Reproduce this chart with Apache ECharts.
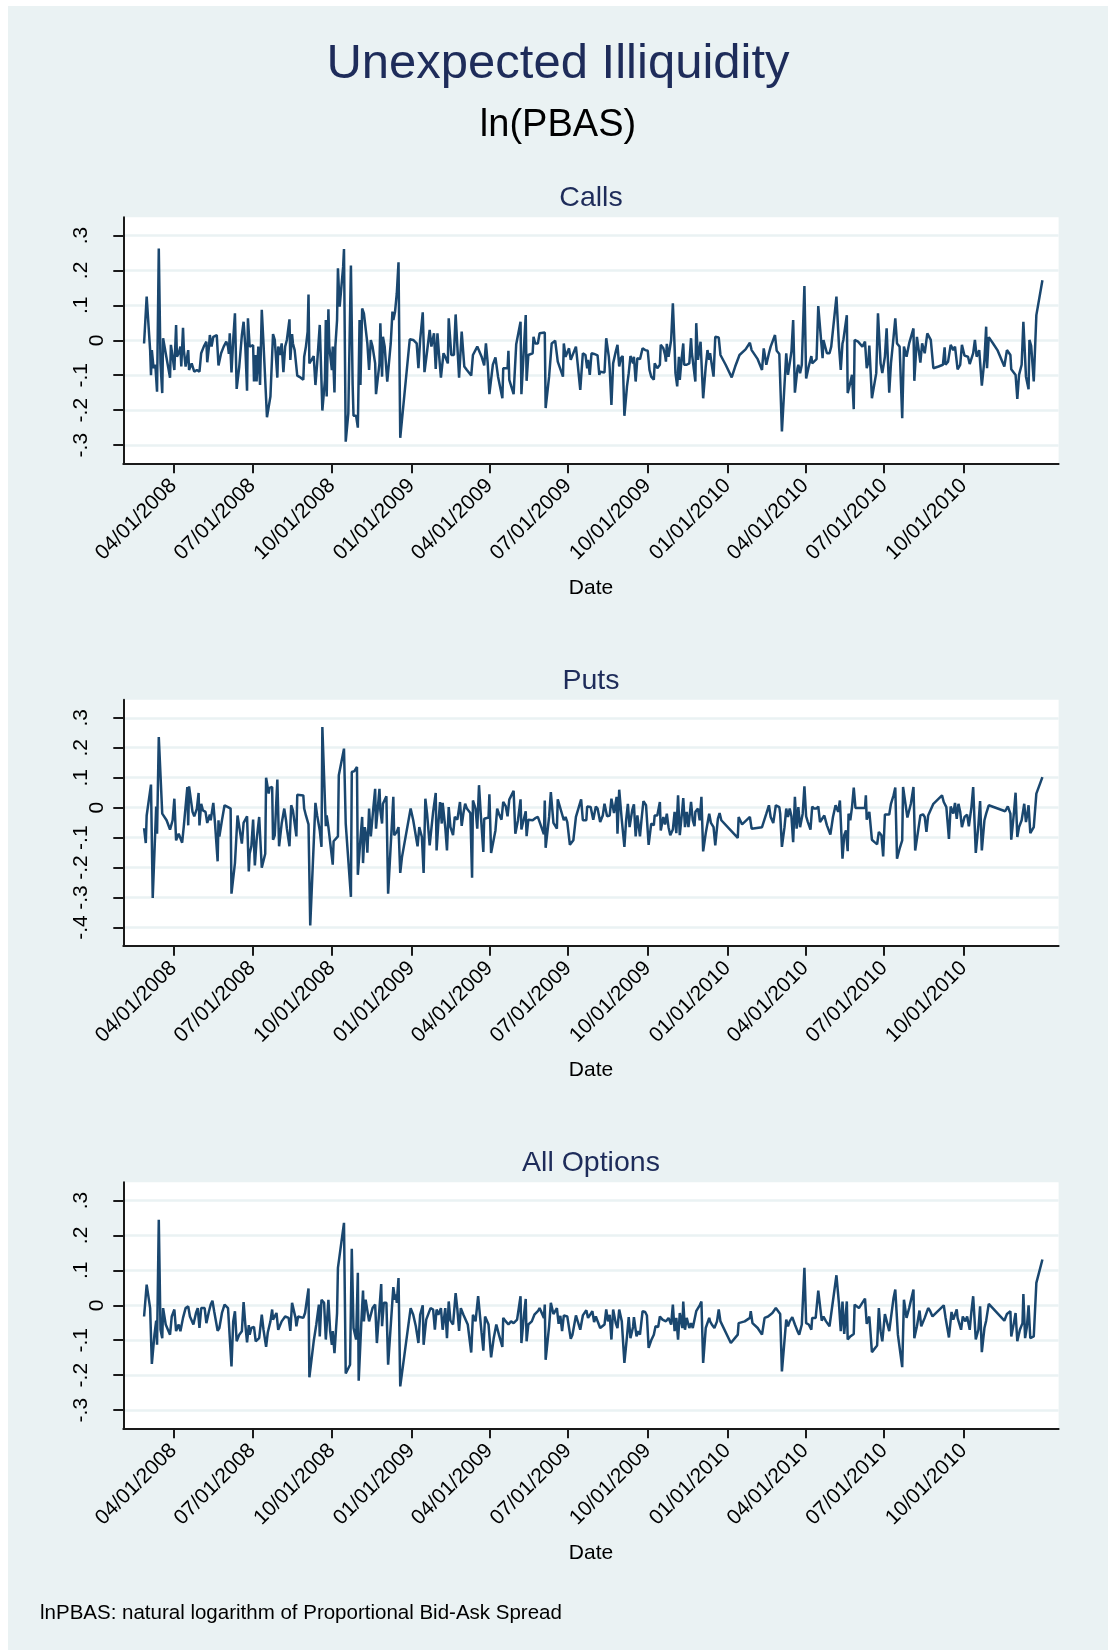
<!DOCTYPE html>
<html>
<head>
<meta charset="utf-8">
<title>Unexpected Illiquidity</title>
<script src="https://cdn.jsdelivr.net/npm/echarts@6/dist/echarts.min.js"></script>
<style>
  html, body { margin: 0; padding: 0; background: #ffffff; }
  #frame { position: absolute; left: 8px; top: 6px; width: 1100px; height: 1644px; background: #eaf2f3; }
  #chart { position: absolute; left: 0; top: 0; width: 1108px; height: 1650px; }
</style>
</head>
<body>
<div id="frame"></div>
<div id="chart"></div>
<script>
// x values are day numbers counted from 04/01/2008 (day 0)
const DAY = 86400000;
const BASE = Date.UTC(2008, 3, 1);

const tickLabels = ["04/01/2008", "07/01/2008", "10/01/2008", "01/01/2009", "04/01/2009",
  "07/01/2009", "10/01/2009", "01/01/2010", "04/01/2010", "07/01/2010", "10/01/2010"];
const callsTicks = [-0.3, -0.2, -0.1, 0, 0.1, 0.2, 0.3];
const putsTicks = [-0.4, -0.3, -0.2, -0.1, 0, 0.1, 0.2, 0.3];
const allTicks = [-0.3, -0.2, -0.1, 0, 0.1, 0.2, 0.3];
const panelTitles = ["Calls", "Puts", "All Options"];

// [day, unexpected ln(PBAS)]
const calls = [
  [-34,-0.009],[-31,0.125],[-27,-0.028],[-26,-0.10],[-25,-0.028],[-23,-0.08],[-21,-0.07],[-19,-0.147],[-17,0.263],[-15,-0.066],
  [-13,-0.151],[-12,0.006],[-9,-0.037],[-4,-0.107],[-3,-0.013],[-1,-0.047],[1,-0.085],[3,0.044],[4,-0.047],[6,-0.037],
  [8,-0.018],[9,-0.075],[11,0.036],[12,-0.028],[14,-0.075],[17,-0.028],[18,-0.085],[21,-0.066],[22,-0.061],[24,-0.09],
  [27,-0.085],[30,-0.09],[32,-0.037],[35,-0.018],[38,-0.004],[39,-0.063],[41,-0.018],[42,0.015],[44,-0.018],[46,0.01],
  [47,0.013],[50,0.015],[52,-0.072],[55,-0.037],[58,-0.018],[61,-0.004],[63,-0.018],[64,-0.039],[65,0.02],[67,-0.092],
  [69,0.001],[70,0.006],[71,0.077],[73,-0.139],[76,-0.075],[79,0.015],[81,0.053],[82,0.049],[83,-0.018],[85,-0.144],
  [86,0.063],[88,-0.018],[90,-0.016],[92,-0.014],[93,-0.118],[95,-0.042],[96,-0.118],[98,-0.018],[100,-0.128],[102,0.087],
  [104,-0.009],[108,-0.22],[112,-0.161],[115,0.018],[117,0.001],[120,-0.107],[121,-0.018],[123,-0.042],[125,-0.009],[127,-0.091],
  [129,-0.018],[131,0.001],[134,0.06],[135,-0.056],[137,0.018],[138,-0.009],[140,-0.028],[141,-0.026],[143,-0.101],[147,-0.107],
  [150,-0.113],[151,-0.047],[153,-0.018],[155,0.025],[156,0.131],[157,-0.066],[160,-0.054],[162,-0.045],[164,-0.128],[166,-0.066],
  [169,0.044],[172,-0.201],[175,-0.113],[176,0.058],[177,-0.161],[179,0.089],[180,-0.018],[183,-0.085],[184,-0.018],[186,-0.149],
  [187,-0.018],[189,0.058],[190,0.206],[192,0.096],[194,0.096],[196,0.21],[197,0.261],[199,-0.29],[202,-0.209],[205,0.214],
  [207,-0.128],[208,-0.216],[211,-0.216],[213,-0.25],[215,0.058],[216,-0.128],[218,0.091],[220,0.077],[224,-0.009],[226,-0.085],
  [228,0.001],[230,-0.018],[233,-0.066],[234,-0.154],[238,-0.066],[239,0.049],[241,-0.104],[242,0.01],[244,-0.018],[247,-0.118],
  [251,-0.009],[253,0.082],[254,0.058],[256,0.082],[258,0.134],[260,0.223],[262,-0.279],[273,0.003],[277,0.001],[281,-0.009],
  [283,-0.08],[285,0.001],[288,0.08],[290,-0.091],[293,-0.032],[296,0.03],[298,-0.018],[301,0.02],[303,-0.082],[305,0.02],
  [307,-0.047],[309,-0.107],[312,-0.037],[314,-0.047],[317,-0.066],[318,0.063],[321,-0.042],[324,-0.042],[326,0.074],[328,-0.018],
  [330,-0.107],[333,0.025],[336,-0.075],[339,-0.085],[344,-0.101],[346,-0.042],[351,-0.018],[353,-0.013],[356,-0.047],[359,-0.072],
  [361,-0.009],[363,-0.064],[365,-0.154],[369,-0.07],[372,-0.049],[375,-0.104],[380,-0.166],[381,-0.08],[386,-0.08],[387,-0.03],
  [388,-0.113],[393,-0.154],[396,-0.011],[401,0.053],[402,-0.154],[405,-0.018],[407,0.072],[408,-0.116],[410,-0.042],[415,-0.037],
  [416,0.01],[418,-0.009],[421,-0.009],[423,0.02],[429,0.022],[430,-0.194],[434,-0.104],[437,-0.009],[441,-0.001],[444,-0.061],
  [446,-0.063],[450,-0.104],[451,-0.009],[453,-0.047],[455,-0.051],[457,-0.023],[459,-0.056],[461,-0.051],[465,-0.018],[470,-0.142],
  [473,-0.037],[474,-0.032],[476,-0.042],[478,-0.08],[479,-0.056],[481,-0.099],[483,-0.037],[486,-0.039],[490,-0.043],[492,-0.099],
  [493,-0.09],[498,-0.092],[500,0.006],[503,-0.047],[504,-0.08],[506,-0.185],[508,-0.066],[511,-0.032],[513,-0.013],[515,-0.075],
  [517,-0.051],[519,-0.045],[521,-0.216],[524,-0.132],[526,-0.094],[528,-0.045],[531,-0.066],[532,-0.047],[534,-0.118],[536,-0.051],
  [539,-0.054],[542,-0.023],[545,-0.028],[548,-0.03],[550,-0.085],[552,-0.104],[555,-0.113],[556,-0.066],[559,-0.08],[562,-0.07],
  [563,-0.013],[566,-0.023],[568,-0.042],[569,-0.061],[570,-0.01],[572,-0.047],[575,0.001],[577,0.106],[579,-0.018],[580,-0.094],
  [582,-0.132],[584,-0.047],[585,-0.113],[587,-0.056],[589,-0.009],[590,-0.07],[593,-0.07],[596,-0.066],[598,0.006],[599,-0.037],
  [601,-0.032],[603,-0.118],[604,0.049],[606,-0.056],[609,-0.004],[612,-0.166],[615,-0.075],[617,-0.028],[619,-0.056],[620,-0.037],
  [624,-0.104],[626,0.01],[630,0.008],[632,-0.042],[638,-0.07],[645,-0.106],[649,-0.075],[654,-0.042],[661,-0.026],[666,-0.007],
  [668,-0.028],[675,-0.054],[680,-0.085],[682,-0.023],[685,-0.07],[688,-0.037],[690,-0.018],[695,0.015],[697,-0.03],[700,-0.039],
  [703,-0.261],[708,-0.037],[710,-0.099],[712,-0.066],[714,-0.032],[716,0.058],[718,-0.15],[721,-0.08],[722,-0.07],[724,-0.094],
  [726,-0.07],[729,0.155],[731,-0.109],[734,-0.075],[737,-0.045],[738,-0.066],[740,-0.061],[743,-0.054],[745,0.098],[750,-0.051],
  [751,0.001],[755,-0.037],[758,-0.037],[760,-0.018],[766,0.125],[769,-0.018],[771,-0.085],[773,-0.009],[774,0.001],[778,0.072],
  [779,-0.151],[781,-0.132],[784,-0.099],[786,-0.197],[787,0.001],[791,-0.004],[796,-0.018],[799,-0.004],[801,-0.08],[803,-0.061],
  [804,-0.015],[807,-0.166],[812,-0.094],[814,0.077],[817,-0.066],[819,-0.094],[822,-0.047],[824,0.034],[827,-0.15],[829,-0.066],
  [832,0.009],[834,0.063],[836,-0.009],[839,-0.018],[842,-0.223],[844,-0.018],[847,-0.047],[850,-0.009],[855,0.034],[856,-0.116],
  [859,0.01],[861,0.015],[863,-0.064],[865,-0.009],[868,-0.037],[871,0.02],[875,0.001],[878,-0.08],[884,-0.075],[889,-0.07],
  [891,-0.02],[892,-0.07],[895,-0.061],[898,-0.013],[901,-0.028],[903,-0.018],[906,-0.083],[909,-0.07],[911,-0.013],[914,-0.044],
  [918,-0.047],[920,-0.068],[924,-0.037],[926,0.001],[928,-0.047],[931,-0.028],[934,-0.13],[937,-0.056],[939,0.039],[940,-0.08],
  [942,0.009],[947,-0.009],[952,-0.028],[960,-0.075],[963,-0.028],[967,-0.042],[968,-0.083],[973,-0.099],[975,-0.168],[977,-0.099],
  [980,-0.07],[982,0.053],[985,-0.104],[988,-0.14],[989,0.001],[991,-0.016],[994,-0.118],[997,0.072],[1004,0.172]
];

const puts = [
  [-34,-0.068],[-32,-0.118],[-31,-0.026],[-26,0.077],[-24,-0.301],[-20,0.004],[-19,-0.087],[-17,0.236],[-13,-0.02],[-8,-0.042],
  [-4,-0.073],[-1,-0.042],[1,0.03],[3,-0.109],[6,-0.087],[8,-0.081],[10,-0.117],[12,-0.059],[16,0.069],[17,-0.059],
  [18,0.071],[22,-0.014],[24,-0.029],[27,-0.003],[29,0.049],[30,-0.059],[32,0.013],[34,-0.009],[37,-0.014],[39,-0.051],
  [42,-0.023],[43,-0.042],[46,0.016],[48,-0.053],[51,-0.179],[52,-0.042],[53,-0.096],[56,-0.042],[59,0.008],[63,0.002],
  [66,-0.003],[67,-0.287],[71,-0.185],[74,-0.026],[79,-0.12],[81,-0.051],[85,-0.029],[87,-0.213],[88,-0.154],[90,-0.128],
  [92,-0.04],[94,-0.193],[96,-0.109],[99,-0.031],[102,-0.2],[106,-0.154],[107,0.1],[110,0.047],[111,0.066],[114,0.069],
  [115,-0.107],[117,-0.092],[120,0.094],[122,-0.129],[125,-0.053],[128,-0.003],[130,-0.042],[131,-0.07],[134,-0.129],[136,0.008],
  [138,-0.009],[142,-0.096],[143,0.043],[145,0.041],[150,0.041],[151,-0.003],[153,-0.026],[156,-0.056],[158,-0.393],[164,0.016],
  [166,-0.026],[169,-0.076],[171,-0.131],[172,0.269],[176,-0.062],[177,-0.026],[179,-0.065],[184,-0.19],[185,-0.112],[190,-0.096],
  [191,0.108],[197,0.197],[199,-0.053],[205,-0.298],[206,0.119],[209,0.122],[212,0.136],[213,-0.224],[216,-0.104],[218,-0.031],
  [219,-0.185],[221,-0.065],[223,-0.098],[224,-0.15],[226,-0.003],[228,-0.096],[231,0.002],[233,0.063],[234,-0.07],[238,0.063],
  [239,-0.009],[241,-0.053],[242,0.013],[246,0.038],[248,-0.287],[254,0.036],[255,-0.092],[258,-0.081],[260,-0.065],[262,-0.218],
  [264,-0.165],[274,-0.003],[277,-0.042],[282,-0.129],[284,-0.065],[287,-0.098],[289,-0.218],[291,0.03],[293,-0.02],[296,-0.126],
  [300,-0.014],[303,0.049],[304,-0.143],[306,-0.053],[308,0.019],[310,-0.053],[311,0.016],[314,-0.065],[316,-0.143],[318,0.002],
  [320,-0.065],[323,-0.092],[325,-0.031],[328,-0.04],[331,0.019],[333,-0.061],[335,-0.018],[337,0.013],[339,-0.003],[343,-0.018],
  [345,-0.234],[346,0.024],[349,-0.003],[351,-0.07],[353,0.075],[355,-0.02],[358,-0.148],[359,-0.037],[364,-0.033],[365,0.045],
  [367,-0.151],[372,-0.076],[374,-0.003],[376,-0.02],[379,-0.04],[381,0.019],[384,0.004],[386,-0.029],[388,0.027],[393,0.056],
  [395,-0.087],[398,-0.042],[401,0.028],[402,-0.073],[404,-0.048],[407,-0.012],[408,-0.095],[410,-0.04],[415,-0.042],[418,-0.035],
  [421,-0.031],[423,-0.026],[428,-0.089],[429,0.024],[430,-0.134],[434,-0.031],[436,0.052],[439,-0.051],[443,-0.07],[444,0.028],
  [449,-0.022],[451,-0.042],[453,-0.031],[455,-0.048],[458,-0.124],[462,-0.109],[465,-0.031],[471,0.028],[473,-0.042],[477,-0.042],
  [478,0.004],[480,0.002],[482,0.002],[485,-0.04],[488,0.004],[490,-0.003],[493,-0.048],[496,-0.026],[498,0.013],[501,-0.029],
  [504,-0.026],[506,0.03],[509,-0.018],[512,0.036],[513,-0.087],[515,0.06],[518,-0.042],[521,-0.131],[523,-0.042],[525,0.013],
  [527,-0.065],[530,-0.009],[532,0.011],[534,-0.096],[536,-0.026],[539,-0.096],[541,-0.033],[543,0.022],[546,0.008],[549,-0.124],
  [552,-0.053],[555,-0.059],[556,-0.026],[559,-0.026],[562,0.019],[563,-0.076],[566,-0.031],[568,-0.056],[570,-0.02],[572,-0.065],
  [574,-0.092],[577,-0.073],[579,-0.014],[581,-0.085],[583,0.041],[585,-0.092],[588,-0.003],[589,0.032],[591,-0.065],[593,-0.014],
  [595,-0.065],[598,0.019],[600,-0.042],[602,-0.062],[603,-0.014],[606,-0.003],[608,-0.042],[610,0.036],[612,-0.146],[615,-0.085],
  [619,-0.02],[621,-0.051],[624,-0.065],[626,-0.126],[629,-0.037],[631,-0.018],[633,-0.042],[642,-0.07],[652,-0.101],[653,-0.031],
  [657,-0.056],[666,-0.031],[668,-0.07],[680,-0.065],[685,-0.02],[688,0.008],[690,-0.031],[693,-0.051],[696,0.008],[700,0.002],
  [701,-0.02],[703,-0.131],[706,-0.065],[708,-0.003],[710,-0.031],[712,-0.003],[714,-0.029],[716,-0.115],[718,0.036],[720,-0.07],
  [722,0.002],[724,-0.065],[727,-0.02],[729,0.071],[731,-0.029],[733,-0.048],[736,-0.073],[738,0.004],[740,-0.003],[743,-0.003],
  [745,0.004],[747,-0.048],[749,-0.042],[752,-0.026],[755,-0.059],[759,-0.09],[762,-0.031],[765,0.008],[768,-0.014],[770,0.024],
  [773,-0.17],[775,-0.092],[777,-0.076],[779,-0.145],[780,-0.02],[782,-0.042],[784,0.002],[786,0.067],[788,-0.001],[793,-0.001],
  [799,-0.001],[800,0.041],[801,-0.04],[804,-0.014],[807,-0.107],[810,-0.115],[813,-0.122],[815,-0.081],[818,-0.092],[820,-0.163],
  [822,-0.023],[827,-0.023],[829,0.013],[832,0.041],[834,0.067],[836,-0.17],[839,-0.137],[842,-0.109],[843,0.069],[848,-0.033],
  [852,0.013],[855,0.069],[857,-0.143],[861,-0.065],[863,-0.026],[866,-0.022],[868,-0.031],[870,-0.081],[872,-0.026],[874,-0.031],
  [878,0.013],[888,0.041],[890,0.019],[893,0.002],[896,-0.104],[898,0.004],[901,-0.02],[903,0.016],[905,-0.037],[907,0.013],
  [909,-0.014],[911,-0.065],[914,-0.031],[917,-0.023],[919,-0.062],[922,0.002],[924,0.069],[927,-0.151],[930,-0.059],[932,0.022],
  [934,-0.143],[937,-0.042],[939,-0.02],[942,0.008],[961,-0.012],[964,0.004],[967,-0.02],[968,-0.107],[971,-0.02],[973,0.05],
  [975,-0.098],[977,-0.065],[980,-0.042],[983,0.013],[985,-0.048],[987,-0.014],[988,0.008],[990,-0.085],[994,-0.065],[997,0.047],
  [1004,0.102]
];

const allOptions = [
  [-34,-0.032],[-31,0.059],[-27,-0.008],[-25,-0.168],[-22,-0.084],[-20,-0.044],[-19,-0.113],[-17,0.245],[-15,-0.07],[-13,-0.094],
  [-12,-0.008],[-9,-0.055],[-4,-0.084],[-2,-0.032],[1,-0.012],[3,-0.074],[6,-0.055],[8,-0.074],[11,-0.036],[14,-0.008],
  [17,-0.003],[19,-0.032],[23,-0.055],[26,-0.022],[28,-0.008],[30,-0.065],[32,-0.008],[36,-0.008],[38,-0.051],[41,-0.017],
  [43,0.002],[45,0.013],[47,-0.017],[51,-0.073],[53,-0.065],[56,-0.022],[59,0.002],[63,-0.008],[64,-0.005],[67,-0.175],
  [69,-0.046],[71,-0.017],[73,-0.103],[76,-0.084],[79,-0.074],[81,0.009],[83,-0.055],[85,-0.106],[87,-0.057],[88,-0.084],
  [90,-0.065],[93,-0.062],[95,-0.103],[99,-0.094],[102,-0.027],[104,-0.07],[107,-0.119],[109,-0.077],[112,-0.046],[114,-0.012],
  [115,-0.041],[119,-0.022],[121,-0.07],[125,-0.046],[129,-0.032],[133,-0.036],[135,-0.073],[137,0.007],[141,-0.036],[142,-0.06],
  [144,-0.032],[146,-0.036],[150,-0.036],[152,-0.022],[154,-0.017],[156,0.048],[157,-0.206],[162,-0.103],[165,-0.055],[168,0.002],
  [169,-0.089],[171,0.016],[174,0.007],[176,-0.098],[179,0.016],[181,-0.074],[183,-0.113],[184,-0.074],[186,-0.137],[189,-0.022],
  [190,0.107],[197,0.236],[199,-0.195],[204,-0.17],[206,0.162],[208,-0.065],[211,-0.098],[213,0.093],[214,-0.216],[217,-0.051],
  [219,0.042],[220,-0.046],[222,0.016],[226,-0.046],[230,-0.008],[233,0.002],[235,-0.108],[238,-0.008],[240,0.061],[241,-0.06],
  [243,0.007],[246,0.007],[248,-0.17],[254,0.052],[256,0.016],[257,0.031],[258,0.007],[260,0.078],[262,-0.232],[274,-0.008],
  [277,-0.027],[280,-0.06],[283,-0.108],[285,-0.027],[288,0],[289,-0.113],[292,-0.041],[297,-0.008],[300,-0.012],[302,-0.07],
  [304,-0.012],[306,-0.027],[309,-0.008],[311,-0.07],[314,-0.008],[316,-0.094],[318,0.011],[320,-0.044],[323,-0.055],[326,0.035],
  [328,-0.012],[330,-0.073],[332,-0.008],[335,-0.027],[340,-0.055],[344,-0.135],[346,-0.027],[349,-0.046],[352,0.026],[356,-0.079],
  [358,-0.13],[360,-0.032],[364,-0.055],[367,-0.149],[370,-0.094],[373,-0.055],[376,-0.084],[380,-0.119],[381,-0.036],[384,-0.046],
  [387,-0.055],[390,-0.046],[393,-0.051],[395,-0.055],[397,-0.041],[398,-0.036],[401,0.026],[402,-0.108],[405,-0.027],[407,0.018],
  [408,-0.103],[410,-0.055],[414,-0.046],[417,-0.027],[421,-0.017],[423,-0.008],[428,-0.036],[429,0.002],[430,-0.156],[434,-0.06],
  [436,0.007],[439,-0.025],[441,-0.027],[443,-0.008],[445,-0.053],[447,-0.03],[449,-0.074],[451,-0.029],[455,-0.032],[457,-0.036],
  [459,-0.096],[461,-0.084],[465,-0.029],[470,-0.07],[473,-0.029],[477,-0.014],[479,-0.036],[481,-0.036],[484,-0.017],[486,-0.048],
  [488,-0.032],[490,-0.036],[493,-0.065],[495,-0.06],[498,-0.055],[500,-0.012],[502,-0.046],[504,-0.027],[506,-0.098],[508,-0.012],
  [511,-0.051],[513,-0.065],[515,-0.012],[518,-0.046],[521,-0.165],[524,-0.089],[526,-0.034],[528,-0.094],[531,-0.062],[532,-0.034],
  [535,-0.089],[537,-0.074],[539,-0.084],[542,-0.017],[545,-0.019],[547,-0.029],[549,-0.122],[552,-0.1],[555,-0.084],[557,-0.06],
  [560,-0.062],[562,-0.032],[565,-0.041],[567,-0.046],[569,-0.046],[572,-0.036],[575,-0.055],[577,0.002],[579,-0.074],[581,-0.036],
  [583,-0.098],[585,-0.022],[588,-0.065],[589,0.011],[591,-0.07],[593,-0.036],[596,-0.065],[598,-0.051],[600,-0.065],[602,-0.07],
  [604,-0.017],[608,0],[610,0.011],[612,-0.165],[615,-0.065],[619,-0.036],[620,-0.046],[622,-0.055],[625,-0.065],[628,-0.046],
  [630,-0.012],[632,-0.046],[644,-0.108],[652,-0.084],[653,-0.051],[660,-0.046],[666,-0.036],[667,-0.017],[669,-0.051],[675,-0.065],
  [680,-0.084],[683,-0.036],[687,-0.032],[692,-0.022],[696,-0.008],[701,-0.025],[703,-0.189],[708,-0.041],[710,-0.06],[712,-0.046],
  [715,-0.034],[718,-0.055],[721,-0.074],[723,-0.084],[726,-0.055],[729,0.107],[731,-0.051],[734,-0.055],[737,-0.07],[738,-0.036],
  [742,-0.036],[745,0.042],[749,-0.044],[751,-0.032],[754,-0.046],[758,-0.06],[766,0.086],[769,0.002],[771,-0.074],[773,0.011],
  [775,-0.082],[778,0.011],[779,-0.098],[782,-0.089],[786,-0.082],[787,0.002],[792,-0.008],[799,0.019],[801,-0.053],[804,-0.032],
  [807,-0.134],[813,-0.115],[815,-0.008],[817,-0.074],[819,-0.103],[822,-0.025],[824,-0.022],[827,-0.074],[829,-0.036],[832,0.021],
  [834,0.045],[837,-0.084],[839,-0.084],[842,-0.177],[844,0.016],[847,-0.036],[850,-0.008],[855,0.045],[856,-0.094],[859,-0.06],
  [862,-0.015],[864,-0.06],[868,-0.036],[872,-0.008],[874,-0.015],[877,-0.032],[890,0],[892,-0.034],[896,-0.092],[899,-0.019],
  [901,-0.041],[905,-0.012],[906,-0.036],[910,-0.07],[912,-0.032],[915,-0.046],[917,-0.032],[920,-0.07],[922,-0.017],[924,0.026],
  [927,-0.098],[930,-0.07],[932,-0.003],[934,-0.134],[937,-0.065],[939,-0.044],[942,0.004],[960,-0.044],[963,-0.025],[967,-0.017],
  [968,-0.089],[971,-0.051],[973,-0.022],[975,-0.103],[978,-0.07],[981,-0.051],[982,0.032],[984,-0.094],[986,-0.063],[988,0],
  [990,-0.094],[994,-0.089],[997,0.064],[1004,0.131]
];

const FONT = "'Liberation Sans', Arial, Helvetica, sans-serif";
const NAVY = "#1e2c5a";
const LINE = "#1a476f";
const AXIS = "#1a1a1a";
const GRIDLINE = "#eaf2f3";

function toDay(s) {
  const [m, d, y] = s.split("/").map(Number);
  return Math.round((Date.UTC(y, m - 1, d) - BASE) / DAY);
}
const tickDays = tickLabels.map(toDay);

function fmtDay(v) {
  const i = tickDays.indexOf(Math.round(v));
  return i >= 0 ? tickLabels[i] : "";
}

// Stata style: .3, -.2, 0  (the zero label sits closer to the axis)
function fmtY(v) {
  if (Math.abs(v) < 1e-9) return "{z|0}";
  return "{o|" + String(Math.round(v * 10) / 10).replace("0.", ".") + "}";
}
const yLabelRich = {
  z: { fontSize: 21, fontFamily: FONT, color: "#000" },
  o: { fontSize: 21, fontFamily: FONT, color: "#000", padding: [0, 0, 16, 0] },
};

const panels = [
  { data: calls, ticks: callsTicks, min: -0.352, max: 0.352 },
  { data: puts, ticks: putsTicks, min: -0.461, max: 0.36 },
  { data: allOptions, ticks: allTicks, min: -0.352, max: 0.352 },
];
const STEP = 482.5;
const GRID_TOP = 217.3;
const GRID_H = 246;

const grids = [], xAxes = [], yAxes = [], series = [], texts = [];

panels.forEach((p, i) => {
  grids.push({
    left: 123.3, top: GRID_TOP + i * STEP, width: 935.3, height: GRID_H,
    show: true, backgroundColor: "#ffffff", borderWidth: 0,
  });
  xAxes.push({
    gridIndex: i,
    type: "value",
    min: -58,
    max: 1022.7,
    axisLine: { show: true, onZero: false, lineStyle: { color: AXIS, width: 2 } },
    axisTick: { show: true, customValues: tickDays, length: 10, lineStyle: { color: AXIS, width: 2 } },
    axisLabel: {
      customValues: tickDays, rotate: 45, margin: 19,
      formatter: fmtDay, color: "#000", fontSize: 21, fontFamily: FONT,
    },
    splitLine: { show: false },
  });
  yAxes.push({
    gridIndex: i,
    type: "value",
    min: p.min,
    max: p.max,
    axisLine: { show: true, onZero: false, lineStyle: { color: AXIS, width: 2 } },
    axisTick: { show: true, customValues: p.ticks, length: 10, lineStyle: { color: AXIS, width: 2 } },
    axisLabel: {
      customValues: p.ticks, rotate: 90, margin: 16,
      formatter: fmtY, rich: yLabelRich, color: "#000", fontSize: 21, fontFamily: FONT,
    },
    splitLine: { show: true, lineStyle: { color: GRIDLINE, width: 2.5 } },
  });
  series.push({
    type: "line",
    xAxisIndex: i,
    yAxisIndex: i,
    data: p.data,
    showSymbol: false,
    symbol: "none",
    lineStyle: { color: LINE, width: 2.5 },
    animation: false,
  });
  // panel title and x axis title
  texts.push({
    type: "text", x: 591, y: 198.5 + i * STEP,
    style: { text: panelTitles[i], font: `28.5px ${FONT}`, fill: NAVY, align: "center", verticalAlign: "middle" },
  });
  texts.push({
    type: "text", x: 591, y: 588 + i * STEP,
    style: { text: "Date", font: `21px ${FONT}`, fill: "#000", align: "center", verticalAlign: "middle" },
  });
});

texts.push({
  type: "text", x: 558, y: 64,
  style: { text: "Unexpected Illiquidity", font: `49px ${FONT}`, fill: NAVY, align: "center", verticalAlign: "middle" },
});
texts.push({
  type: "text", x: 558, y: 126,
  style: { text: "ln(PBAS)", font: `38px ${FONT}`, fill: "#000", align: "center", verticalAlign: "middle" },
});
texts.push({
  type: "text", x: 40, y: 1613,
  style: { text: "lnPBAS: natural logarithm of Proportional Bid-Ask Spread", font: `20.5px ${FONT}`, fill: "#000", align: "left", verticalAlign: "middle" },
});

const chart = echarts.init(document.getElementById("chart"), null, { renderer: "canvas" });
chart.setOption({
  animation: false,
  backgroundColor: "transparent",
  grid: grids,
  xAxis: xAxes,
  yAxis: yAxes,
  series: series,
  graphic: texts,
});
</script>
</body>
</html>
